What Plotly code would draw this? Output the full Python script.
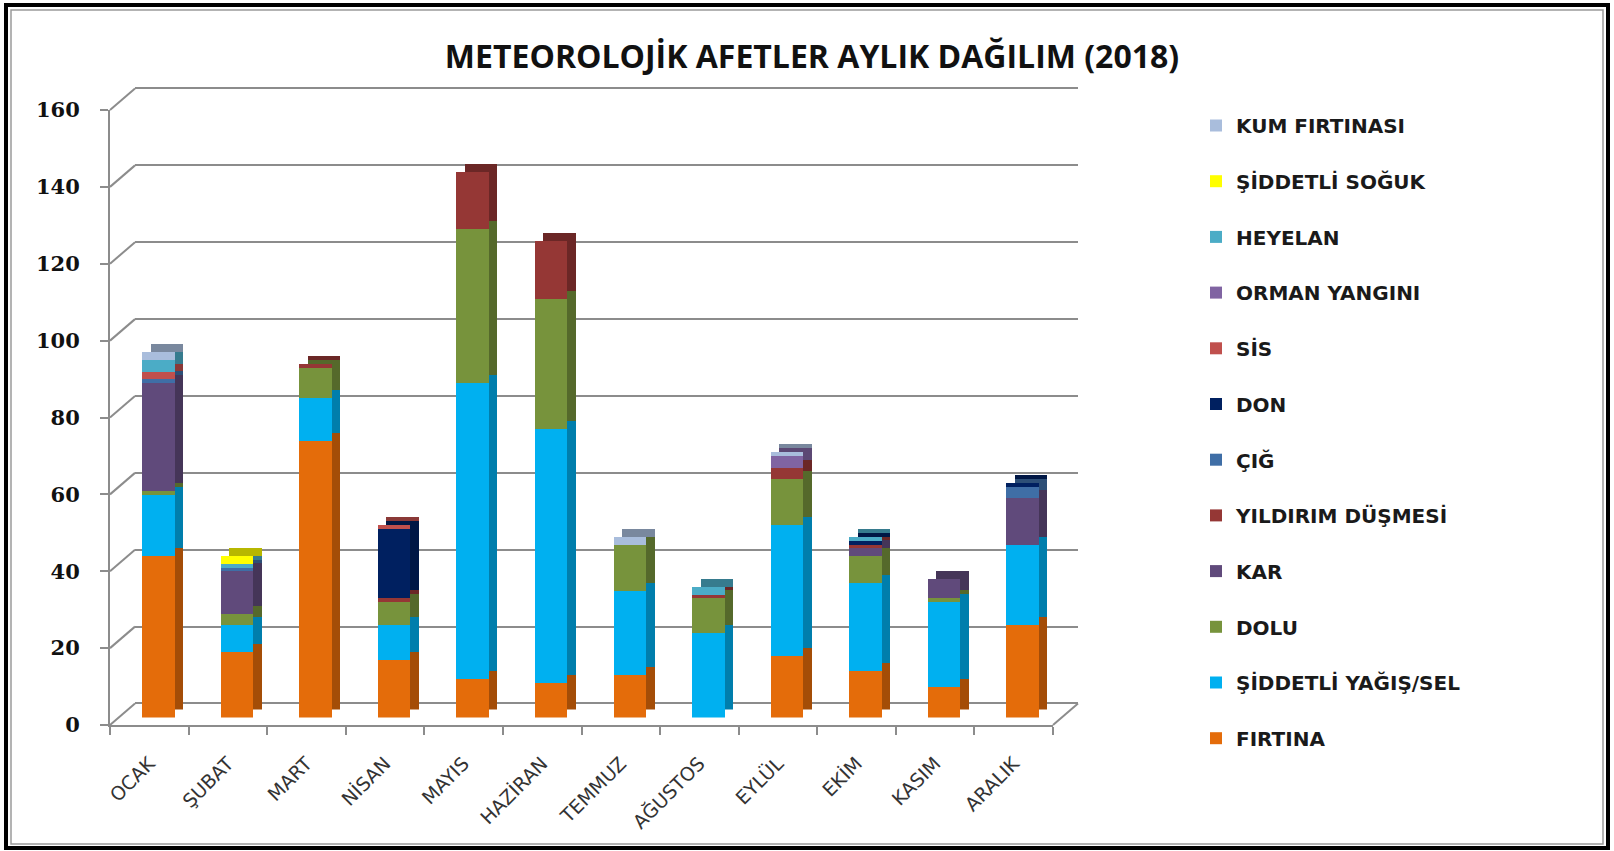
import plotly.graph_objects as go

months = ["OCAK", "ŞUBAT", "MART", "NİSAN", "MAYIS", "HAZİRAN", "TEMMUZ",
          "AĞUSTOS", "EYLÜL", "EKİM", "KASIM", "ARALIK"]

series_names = ["FIRTINA", "ŞİDDETLİ YAĞIŞ/SEL", "DOLU", "KAR", "YILDIRIM DÜŞMESİ",
                "ÇIĞ", "DON", "SİS", "ORMAN YANGINI", "HEYELAN", "ŞİDDETLİ SOĞUK",
                "KUM FIRTINASI"]

firtina = [42, 17, 72, 15, 10, 9, 11, 0, 16, 12, 8, 24]
yagis_sel = [16, 7, 11, 9, 77, 66, 22, 22, 34, 23, 22, 21]
dolu = [1, 3, 8, 6, 40, 34, 12, 9, 12, 7, 1, 0]
kar = [28, 11, 0, 0, 0, 0, 0, 0, 0, 2, 5, 12]
yildirim = [0, 0, 1, 1, 15, 15, 0, 1, 3, 1, 0, 0]
cig = [1, 1, 0, 0, 0, 0, 0, 0, 0, 0, 0, 3]
don = [0, 0, 0, 18, 0, 0, 0, 0, 0, 1, 0, 1]
sis = [2, 0, 0, 1, 0, 0, 0, 0, 0, 0, 0, 0]
orman = [0, 0, 0, 0, 0, 0, 0, 0, 3, 0, 0, 0]
heyelan = [3, 1, 0, 0, 0, 0, 0, 2, 0, 1, 0, 0]
soguk = [0, 2, 0, 0, 0, 0, 0, 0, 0, 0, 0, 0]
kum = [2, 0, 0, 0, 0, 0, 2, 0, 1, 0, 0, 0]

series_values = [firtina, yagis_sel, dolu, kar, yildirim, cig, don, sis, orman,
                 heyelan, soguk, kum]

colors = ["#E46C0A", "#00B0F0", "#77933C", "#604A7B", "#953735", "#3F6EA6",
          "#002060", "#C0504D", "#8064A2", "#4BACC6", "#FFFF00", "#A9BDDC"]

y_ticks = [0, 20, 40, 60, 80, 100, 120, 140, 160]

W, H = 1614, 851


def darker(hexc, f=0.72):
    h = hexc.lstrip("#")
    r, g, b = (int(h[i:i + 2], 16) for i in (0, 2, 4))
    return "rgb(%d,%d,%d)" % (r * f, g * f, b * f)


def px_x(p):
    return p / W


def px_y(p):
    return 1 - p / H


# geometry (pixels)
FRONT_X = (110, 1053)
FRONT_Y0, FRONT_Y160 = 725, 110
BAR_DX, BAR_DY = 9, -7.5
SIDE_DX, SIDE_DY = 8.5, -8
BACK_DX, BACK_DY = 25, -21.5
SCALE = (FRONT_Y0 - FRONT_Y160) / 160.0
BACK_TOP = 166  # back wall range top (so the 160 gridline is inside)

fig = go.Figure()

# dummy trace hosting the back wall axes (gridlines)
fig.add_trace(go.Scatter(x=months, y=[0] * len(months), mode="markers",
                         marker=dict(opacity=0), showlegend=False,
                         hoverinfo="skip", xaxis="x", yaxis="y"))

# back copy of bars (visible as side and top faces)
for name, vals, col in zip(series_names, series_values, colors):
    fig.add_trace(go.Bar(x=months, y=vals, name=name, marker_color=darker(col),
                         marker_line_width=0, width=0.414, showlegend=False,
                         hoverinfo="skip", xaxis="x2", yaxis="y2"))

# front faces
for i, (name, vals, col) in enumerate(zip(series_names, series_values, colors)):
    fig.add_trace(go.Bar(x=months, y=vals, name=name, marker_color=col,
                         marker_line_width=0, width=0.414, legendgroup=name,
                         legendrank=1000 - i, xaxis="x3", yaxis="y3"))

# dummy trace to host the front axes
fig.add_trace(go.Scatter(x=months, y=[0] * len(months), mode="markers",
                         marker=dict(opacity=0), showlegend=False,
                         hoverinfo="skip", xaxis="x4", yaxis="y4"))


def xdom(dx):
    return [px_x(FRONT_X[0] + dx), px_x(FRONT_X[1] + dx)]


def ydom(dy, top=160):
    return [px_y(FRONT_Y0 + dy), px_y(FRONT_Y0 - top * SCALE + dy)]


grid_col = "#8c8c8c"
cat_range = [-0.5, len(months) - 0.5]

common_hidden_x = dict(type="category", range=cat_range, showgrid=False,
                       showticklabels=False, showline=False, zeroline=False,
                       ticks="", fixedrange=True, automargin=False)
common_hidden_y = dict(range=[0, 160], showgrid=False, showticklabels=False,
                       showline=False, zeroline=False, ticks="", fixedrange=True,
                       automargin=False)

fig.update_layout(
    width=W, height=H, autosize=False,
    margin=dict(l=0, r=0, t=0, b=0, pad=0),
    paper_bgcolor="white", plot_bgcolor="rgba(0,0,0,0)",
    barmode="stack", bargap=0.586,
    title=dict(text="<b>METEOROLOJİK AFETLER AYLIK DAĞILIM (2018)</b>",
               x=px_x(812), xanchor="center", y=px_y(57), yanchor="middle",
               font=dict(family="Open Sans", size=32, color="#111111")),
    xaxis=dict(domain=xdom(BACK_DX), anchor="y", **common_hidden_x),
    yaxis=dict(domain=ydom(BACK_DY, BACK_TOP), anchor="x", range=[0, BACK_TOP],
               tickvals=y_ticks, automargin=False,
               showgrid=True, gridcolor=grid_col, gridwidth=2,
               zeroline=True, zerolinecolor=grid_col, zerolinewidth=2,
               showticklabels=False, showline=False, ticks="", fixedrange=True),
    xaxis2=dict(domain=xdom(BAR_DX + SIDE_DX), anchor="y2", **common_hidden_x),
    yaxis2=dict(domain=ydom(BAR_DY + SIDE_DY), anchor="x2", **common_hidden_y),
    xaxis3=dict(domain=xdom(BAR_DX), anchor="y3", **common_hidden_x),
    yaxis3=dict(domain=ydom(BAR_DY), anchor="x3", **common_hidden_y),
    xaxis4=dict(domain=xdom(0), anchor="y4", type="category", range=cat_range,
                showgrid=False, zeroline=False, showline=True, linecolor=grid_col,
                linewidth=2, ticks="outside", tickson="boundaries", ticklen=8,
                tickcolor=grid_col, tickwidth=1.5, tickangle=-45,
                ticklabelstandoff=18, automargin=False,
                tickfont=dict(family="DejaVu Sans", size=19, color="#333333"),
                fixedrange=True),
    yaxis4=dict(domain=ydom(0), anchor="x4", range=[0, 160], tickvals=y_ticks,
                showgrid=False, zeroline=False, showline=True, linecolor=grid_col,
                linewidth=2, ticks="outside", ticklen=8, tickcolor=grid_col,
                tickwidth=1.5, ticklabelstandoff=16, automargin=False,
                tickfont=dict(family="DejaVu Serif", size=21, color="#111111",
                              weight="bold"),
                fixedrange=True),
    legend=dict(x=px_x(1196), y=px_y(106), xanchor="left", yanchor="top",
                traceorder="grouped", tracegroupgap=26.7,
                font=dict(family="DejaVu Sans", size=20, color="#1a1a1a",
                          weight="bold"),
                bgcolor="rgba(0,0,0,0)", itemwidth=30),
    showlegend=True,
)

# 3D wall connectors (left wall) and right floor edge
shapes = []
for v in y_ticks:
    yf = FRONT_Y0 - v * SCALE
    shapes.append(dict(type="line", xref="paper", yref="paper",
                       x0=px_x(FRONT_X[0]), y0=px_y(yf),
                       x1=px_x(FRONT_X[0] + BACK_DX), y1=px_y(yf + BACK_DY),
                       line=dict(color=grid_col, width=2), layer="below"))
shapes.append(dict(type="line", xref="paper", yref="paper",
                   x0=px_x(FRONT_X[1]), y0=px_y(FRONT_Y0),
                   x1=px_x(FRONT_X[1] + BACK_DX), y1=px_y(FRONT_Y0 + BACK_DY),
                   line=dict(color=grid_col, width=2), layer="below"))
# outer frame
shapes.append(dict(type="rect", xref="paper", yref="paper",
                   x0=px_x(6), y0=px_y(848), x1=px_x(1608), y1=px_y(5),
                   line=dict(color="black", width=4)))
shapes.append(dict(type="rect", xref="paper", yref="paper",
                   x0=px_x(11), y0=px_y(844), x1=px_x(1603), y1=px_y(10),
                   line=dict(color="#9a9a9a", width=1.5)))
fig.update_layout(shapes=shapes)

fig.write_html("out.html")
